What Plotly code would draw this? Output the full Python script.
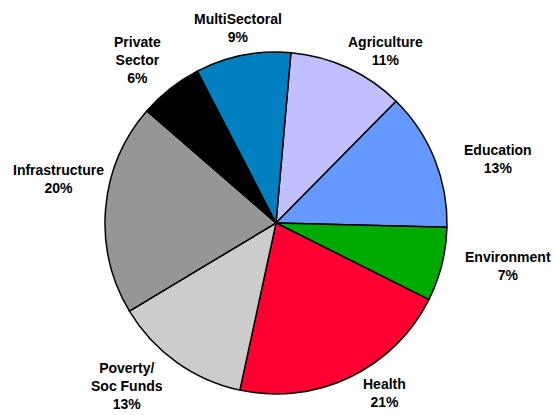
import math
import plotly.graph_objects as go

# Share of funding by sector, clockwise from just past 12 o'clock
sectors = ["Agriculture", "Education", "Environment", "Health",
           "Poverty/<br>Soc Funds", "Infrastructure", "Private<br>Sector", "MultiSectoral"]
shares = [11, 13, 7, 21, 13, 20, 6, 9]
colors = ["#C0C0FF", "#6699FF", "#00AA00", "#FF0033",
          "#CCCCCC", "#969696", "#000000", "#0080C0"]

W, H = 554, 415
cx, cy, r = 276, 223, 171
start_angle = 5  # degrees clockwise from 12 o'clock

# label placement: distance of each label centre from the pie centre (px)
# and a small angular nudge away from the slice's mid-angle (deg)
label_dist = [204, 231, 236, 202, 221, 222, 214, 199]
label_turn = [7.5, 5.8, -3.5, -7.0, 6.8, 6.3, -2.2, 0.2]

fig = go.Figure(go.Pie(
    labels=sectors,
    values=shares,
    sort=False,
    direction="clockwise",
    rotation=start_angle,
    marker=dict(colors=colors, line=dict(color="#000000", width=1.5)),
    textinfo="none",
    hoverinfo="label+percent",
    showlegend=False,
    domain=dict(x=[(cx - r) / W, (cx + r) / W],
                y=[(H - cy - r) / H, (H - cy + r) / H]),
))

total = sum(shares)
cum = 0.0
annotations = []
for name, v, d, turn in zip(sectors, shares, label_dist, label_turn):
    mid = start_angle + (cum + v / 2) / total * 360 + turn
    cum += v
    a = math.radians(mid)
    px = cx + d * math.sin(a)
    py = cy - d * math.cos(a)
    annotations.append(dict(
        x=px / W, y=1 - py / H, xref="paper", yref="paper",
        xanchor="center", yanchor="middle", showarrow=False,
        text=f"<b>{name}<br>{round(v / total * 100)}%</b>",
        align="center",
        font=dict(family="Liberation Sans, Arial, sans-serif", size=14, color="#000000"),
    ))

fig.update_layout(
    width=W, height=H,
    margin=dict(l=0, r=0, t=0, b=0),
    paper_bgcolor="#FFFFFF",
    plot_bgcolor="#FFFFFF",
    annotations=annotations,
)

fig.write_html("out.html")
